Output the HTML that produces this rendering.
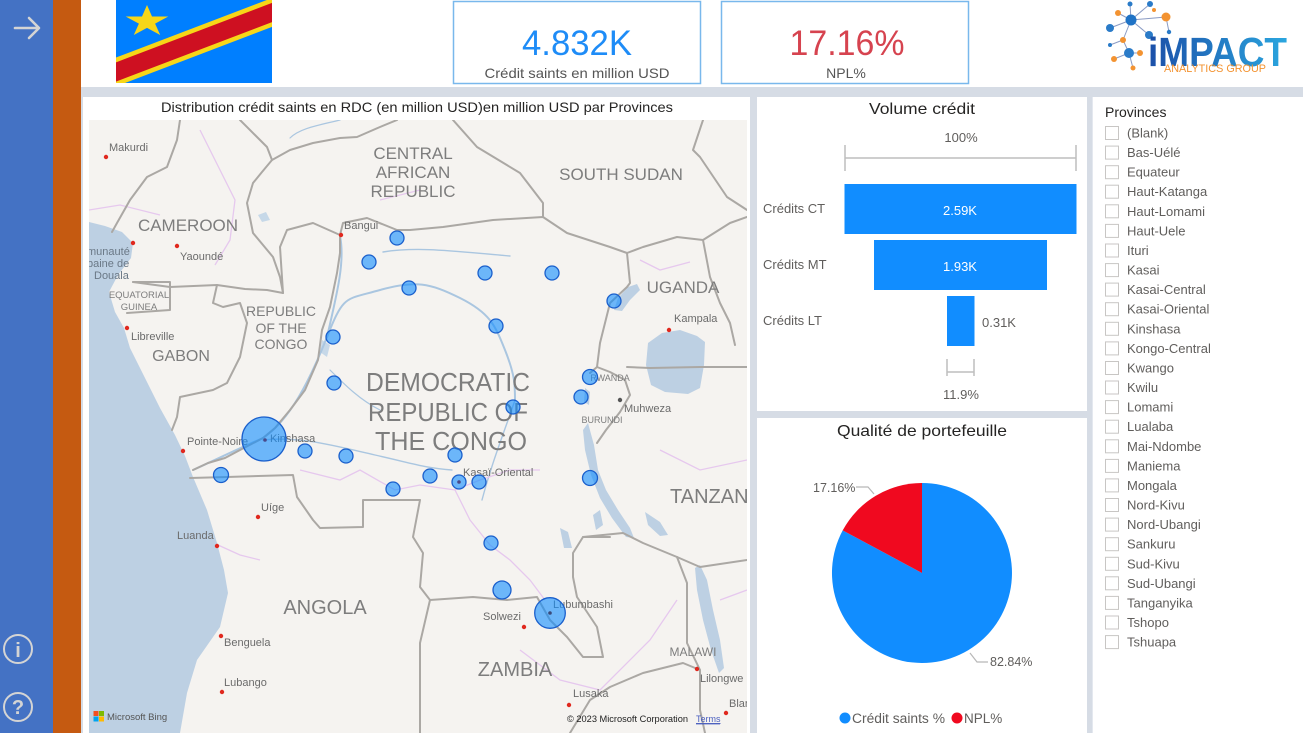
<!DOCTYPE html>
<html><head><meta charset="utf-8"><style>
html,body{margin:0;padding:0;width:1303px;height:733px;overflow:hidden;background:#D6DCE5}
svg{display:block}
text{font-family:"Liberation Sans",sans-serif}
</style></head><body>
<svg width="1303" height="733" viewBox="0 0 1303 733" xmlns="http://www.w3.org/2000/svg">
<defs>
<clipPath id="flagclip"><rect x="116" y="0" width="156" height="83"/></clipPath>
<clipPath id="mapclip"><rect x="89" y="120" width="658" height="613"/></clipPath>
<linearGradient id="lg" x1="0" y1="0" x2="1" y2="0"><stop offset="0" stop-color="#1B4FA8"/><stop offset="1" stop-color="#2BA6DF"/></linearGradient>
</defs>
<rect x="0" y="0" width="1303" height="733" fill="#D6DCE5"/>
<!-- sidebar -->
<rect x="0" y="0" width="53" height="733" fill="#4472C4"/>
<rect x="53" y="0" width="28" height="733" fill="#C55A11"/>
<g stroke="#D4D4D4" stroke-width="2.6" fill="none" stroke-linecap="round" stroke-linejoin="round">
<path d="M15,28 L38,28 M29,18 L39,28 L29,38"/>
<circle cx="18" cy="649" r="14" stroke-width="2"/>
<circle cx="18" cy="707" r="14" stroke-width="2"/>
</g>
<text x="18" y="657" font-size="20" fill="#D4D4D4" text-anchor="middle" font-weight="bold">i</text>
<text x="18" y="714" font-size="20" fill="#D4D4D4" text-anchor="middle" font-weight="bold">?</text>
<!-- header -->
<rect x="81" y="0" width="1222" height="87" fill="#FFFFFF"/>
<!-- flag -->
<g clip-path="url(#flagclip)">
<rect x="116" y="0" width="156" height="83" fill="#007FFF"/>
<line x1="100" y1="78.1" x2="290" y2="5.6" stroke="#F7D618" stroke-width="27"/>
<line x1="100" y1="78.1" x2="290" y2="5.6" stroke="#CE1021" stroke-width="18"/>
</g>
<polygon points="147,5 152,16.5 168.3,16.5 155.1,23.6 160.2,35 147,27.9 133.8,35 138.9,23.6 125.7,16.5 142,16.5" fill="#F7D618"/>
<!-- KPI cards -->
<rect x="453.5" y="1.5" width="247" height="82" fill="#fff" stroke="#79B8EC" stroke-width="1.5"/>
<text x="577" y="55" font-size="35" fill="#1E8CF7" text-anchor="middle" textLength="110" lengthAdjust="spacingAndGlyphs">4.832K</text>
<text x="577" y="78" font-size="14" fill="#555" text-anchor="middle" textLength="185" lengthAdjust="spacingAndGlyphs">Crédit saints en million USD</text>
<rect x="721.5" y="1.5" width="247" height="82" fill="#fff" stroke="#79B8EC" stroke-width="1.5"/>
<text x="847" y="55" font-size="35" fill="#D6434F" text-anchor="middle" textLength="115" lengthAdjust="spacingAndGlyphs">17.16%</text>
<text x="846" y="78" font-size="14" fill="#555" text-anchor="middle">NPL%</text>
<!-- logo -->
<g stroke="#8A9BC4" stroke-width="1">
<line x1="1131" y1="20" x2="1118" y2="13"/><line x1="1131" y1="20" x2="1130" y2="4"/><line x1="1131" y1="20" x2="1150" y2="4"/>
<line x1="1131" y1="20" x2="1166" y2="17"/><line x1="1131" y1="20" x2="1110" y2="28"/><line x1="1131" y1="20" x2="1149" y2="35"/>
<line x1="1131" y1="20" x2="1123" y2="40"/><line x1="1123" y1="40" x2="1129" y2="53"/><line x1="1129" y1="53" x2="1114" y2="59"/>
<line x1="1129" y1="53" x2="1140" y2="53"/><line x1="1129" y1="53" x2="1133" y2="68"/><line x1="1166" y1="17" x2="1169" y2="32"/>
<line x1="1123" y1="40" x2="1110" y2="45"/>
</g>
<g>
<circle cx="1131" cy="20" r="5.5" fill="#1F73C6"/>
<circle cx="1118" cy="13" r="3" fill="#F39331"/>
<circle cx="1130" cy="4" r="2.5" fill="#2A7BC8"/>
<circle cx="1150" cy="4" r="3" fill="#2A7BC8"/>
<circle cx="1154" cy="10" r="2" fill="#F39331"/>
<circle cx="1166" cy="17" r="4.5" fill="#F39331"/>
<circle cx="1169" cy="32" r="2.2" fill="#2A7BC8"/>
<circle cx="1110" cy="28" r="4" fill="#2A7BC8"/>
<circle cx="1149" cy="35" r="4" fill="#2A7BC8"/>
<circle cx="1123" cy="40" r="3" fill="#F39331"/>
<circle cx="1110" cy="45" r="2" fill="#2A7BC8"/>
<circle cx="1129" cy="53" r="5" fill="#2A7BC8"/>
<circle cx="1140" cy="53" r="3" fill="#F39331"/>
<circle cx="1114" cy="59" r="3" fill="#F39331"/>
<circle cx="1133" cy="68" r="2.5" fill="#F39331"/>
</g>
<text x="1148" y="66" font-size="41" font-weight="bold" fill="url(#lg)" textLength="139" lengthAdjust="spacingAndGlyphs">iMPACT</text>
<text x="1164" y="72" font-size="11" fill="#F39331" textLength="102" lengthAdjust="spacingAndGlyphs">ANALYTICS GROUP</text>

<!-- panels -->
<rect x="83" y="97" width="667" height="636" fill="#FFFFFF"/>
<rect x="757" y="97" width="330" height="314" fill="#FFFFFF"/>
<rect x="757" y="418" width="330" height="315" fill="#FFFFFF"/>
<rect x="1092" y="97" width="211" height="636" fill="#FFFFFF"/>
<line x1="1092.5" y1="97" x2="1092.5" y2="733" stroke="#E4E8EF" stroke-width="1"/>

<!-- map title -->
<text x="161" y="112" font-size="14" fill="#252423" textLength="512" lengthAdjust="spacingAndGlyphs">Distribution crédit saints en RDC (en million USD)en million USD par Provinces</text>

<!-- MAP -->
<g clip-path="url(#mapclip)">
<rect x="89" y="120" width="658" height="613" fill="#F5F3F0"/>
<!-- ocean -->
<path d="M89,222 L105,226 L122,232 L133,243 L131,258 L118,275 L109,292 L115,312 L124,328 L130,348 L145,378 L160,408 L175,435 L185,456 L193,477 L207,510 L217,543 L224,570 L228,593 L220,627 L197,660 L187,693 L180,733 L89,733 Z" fill="#BDD0E3"/>
<!-- lakes -->
<path d="M648,343 L662,333 L680,330 L697,336 L705,342 L704,365 L700,388 L688,394 L665,392 L651,385 L646,365 Z" fill="#BDD0E3"/>
<path d="M614,310 L618,298 L628,287 L637,284 L640,290 L630,300 L622,311 Z" fill="#BDD0E3"/>
<path d="M588,423 L594,445 L598,470 L606,490 L618,510 L630,528 L634,538 L626,537 L612,518 L600,498 L591,475 L585,450 L583,430 Z" fill="#BDD0E3"/>
<path d="M700,565 L707,580 L713,610 L720,640 L724,668 L719,673 L711,650 L703,620 L697,590 L695,568 Z" fill="#BDD0E3"/>
<path d="M585,388 L590,392 L589,405 L584,402 Z" fill="#BDD0E3"/>
<path d="M560,528 L568,532 L572,548 L564,548 Z" fill="#BDD0E3"/>
<path d="M593,515 L600,510 L603,525 L596,530 Z" fill="#BDD0E3"/>
<path d="M645,512 L660,522 L668,535 L660,536 L648,525 Z" fill="#BDD0E3"/>
<path d="M322,340 L330,345 L327,357 L320,352 Z" fill="#C6D8E8"/>
<path d="M258,215 L266,212 L270,220 L262,222 Z" fill="#C6D8E8"/>
<!-- rivers -->
<g stroke="#AAC6E0" stroke-width="2" fill="none" stroke-linecap="round">
<path d="M263,438 C290,420 310,380 327,337 S345,300 380,290 S430,283 460,298 S495,325 505,350 S515,385 515,400"/>
<path d="M340,236 C345,260 338,290 327,337"/>
<path d="M263,438 C240,448 215,460 193,470"/>
<path d="M263,440 C300,436 335,446 375,455 S425,468 452,470" stroke-width="1.4"/>
<path d="M383,252 C420,246 460,252 510,256" stroke-width="1.4"/>
<path d="M515,400 C505,430 492,462 482,500" stroke-width="1.4"/>
<path d="M330,370 C345,385 360,400 380,410" stroke-width="1.2"/>
<path d="M290,138 C300,128 320,125 340,120" stroke-width="1.2"/>
</g>
<!-- admin lines -->
<g stroke="#E6C8EE" stroke-width="1.3" fill="none">
<path d="M89,210 L120,205 L160,215"/>
<path d="M200,130 L220,170 L235,200 L230,240 L215,265"/>
<path d="M300,470 L340,480 L360,470 L395,490 L420,485 L455,490 L480,480 L510,470 L540,470"/>
<path d="M455,490 L470,520 L490,545 L510,560 L530,580 L545,600"/>
<path d="M640,260 L660,270 L690,262"/>
<path d="M520,650 L560,680 L600,690 L650,640 L677,600"/>
<path d="M660,450 L700,470 L747,460"/>
<path d="M218,545 L240,555 L260,560"/>
<path d="M380,200 L420,190"/>
<path d="M720,600 L747,590"/>
</g>
<!-- borders -->
<g stroke="#ABA8A4" stroke-width="2" fill="none" stroke-linejoin="round" stroke-linecap="round">
<path d="M180,120 L177,140 L167,167 L147,177 L130,200 L117,223 L112,232"/>
<path d="M240,120 L255,135 L267,147 L272,160 L290,150 L313,143 L340,138 L357,137 L380,127 L397,120"/>
<path d="M272,160 L262,172 L253,183 L247,203 L253,233 L273,257 L280,277 L283,293"/>
<path d="M133,282 L170,287 L217,285 L245,289 L267,290 L283,293"/>
<path d="M133,282 L170,282 L170,310 L127,313"/>
<path d="M217,285 L213,303 L223,307 L240,303 L247,323 L240,357 L227,383 L213,390 L180,397 L177,417 L172,430"/>
<path d="M283,293 L280,247 L287,230 L313,223 L340,235"/>
<path d="M340,235 L340,253 L337,273 L330,307 L322,330 L318,360 L305,390 L290,410 L275,428 L263,438 L240,450 L225,458 L208,463 L193,470"/>
<path d="M340,235 L343,223 L367,218 L397,230 L410,230 L443,227 L493,220 L543,217 L567,233 L610,247 L627,253 L630,283 L627,287 L610,303 L600,343 L597,367 L590,373"/>
<path d="M453,120 L477,147 L520,173 L543,203 L543,217"/>
<path d="M627,253 L643,247 L677,237 L703,240 L730,223 L747,217"/>
<path d="M703,120 L693,150 L700,157 L727,197 L747,210"/>
<path d="M703,240 L710,277 L720,303 L730,323 L735,345"/>
<path d="M627,367 L650,368 L700,367 L747,367"/>
<path d="M597,367 L610,372 L625,380 L630,395 L620,412 L606,430 L597,443"/>
<path d="M610,537 L583,537 L573,553 L573,577 L577,597 L597,627 L603,657 L583,657 L567,637 L550,620 L537,597 L507,600 L473,597 L430,600 L420,587 L423,553 L413,537 L420,500 L363,500 L363,527 L320,528 L313,520 L297,497 L293,475 L227,477 L190,478"/>
<path d="M583,537 L623,533 L643,543 L677,557 L700,567 L747,560"/>
<path d="M430,600 L420,643 L420,733"/>
<path d="M677,557 L687,583 L687,643 L700,670 L700,710 L705,733"/>
<path d="M570,733 L590,700 L610,687 L643,673 L683,663 L700,670"/>
</g>
<!-- country labels -->
<g fill="#7D7D7D" text-anchor="middle">
<text x="413" y="159" font-size="17">CENTRAL</text>
<text x="413" y="178" font-size="17">AFRICAN</text>
<text x="413" y="197" font-size="17">REPUBLIC</text>
<text x="621" y="180" font-size="17">SOUTH SUDAN</text>
<text x="188" y="231" font-size="17">CAMEROON</text>
<text x="683" y="293" font-size="17">UGANDA</text>
<text x="281" y="316" font-size="14">REPUBLIC</text>
<text x="281" y="333" font-size="14">OF THE</text>
<text x="281" y="349" font-size="14">CONGO</text>
<text x="181" y="361" font-size="16">GABON</text>
<text x="448" y="391" font-size="26" textLength="164" lengthAdjust="spacingAndGlyphs">DEMOCRATIC</text>
<text x="448" y="421" font-size="26" textLength="160" lengthAdjust="spacingAndGlyphs">REPUBLIC OF</text>
<text x="451" y="450" font-size="26" textLength="152" lengthAdjust="spacingAndGlyphs">THE CONGO</text>
<text x="325" y="614" font-size="20">ANGOLA</text>
<text x="515" y="676" font-size="20">ZAMBIA</text>
<text x="693" y="656" font-size="12">MALAWI</text>
<text x="610" y="381" font-size="9">RWANDA</text>
<text x="602" y="423" font-size="9">BURUNDI</text>
<text x="139" y="298" font-size="9.5">EQUATORIAL</text>
<text x="139" y="310" font-size="9.5">GUINEA</text>
</g>
<text x="670" y="503" font-size="20" fill="#7D7D7D">TANZANIA</text>
<!-- cities -->
<g fill="#E0281E">
<circle cx="106" cy="157" r="2.2"/><circle cx="341" cy="235" r="2.2"/><circle cx="177" cy="246" r="2.2"/>
<circle cx="133" cy="243" r="2.2"/><circle cx="127" cy="328" r="2.2"/><circle cx="183" cy="451" r="2.2"/>
<circle cx="258" cy="517" r="2.2"/><circle cx="217" cy="546" r="2.2"/><circle cx="221" cy="636" r="2.2"/>
<circle cx="222" cy="692" r="2.2"/><circle cx="524" cy="627" r="2.2"/><circle cx="569" cy="705" r="2.2"/>
<circle cx="669" cy="330" r="2.2"/><circle cx="697" cy="669" r="2.2"/><circle cx="726" cy="713" r="2.2"/>
</g>
<circle cx="620" cy="400" r="2.2" fill="#555"/>
<g fill="#6B6B6B" font-size="11">
<text x="109" y="151">Makurdi</text>
<text x="344" y="229">Bangui</text>
<text x="180" y="260">Yaoundé</text>
<text x="131" y="340">Libreville</text>
<text x="187" y="445">Pointe-Noire</text>
<text x="270" y="442">Kinshasa</text>
<text x="261" y="511">Uíge</text>
<text x="177" y="539">Luanda</text>
<text x="224" y="646">Benguela</text>
<text x="224" y="686">Lubango</text>
<text x="463" y="476">Kasaï-Oriental</text>
<text x="553" y="608">Lubumbashi</text>
<text x="483" y="620">Solwezi</text>
<text x="573" y="697">Lusaka</text>
<text x="674" y="322">Kampala</text>
<text x="624" y="412">Muhweza</text>
<text x="700" y="682">Lilongwe</text>
<text x="729" y="707">Blan</text>
</g>
<g fill="#6A7886" font-size="11">
<text x="87" y="255">munauté</text>
<text x="87" y="267">baine de</text>
<text x="94" y="279">Douala</text>
</g>
<!-- bubbles -->
<g fill="rgba(17,141,255,0.6)" stroke="#1A5FCC" stroke-width="1.3">
<circle cx="397" cy="238" r="7"/><circle cx="369" cy="262" r="7"/><circle cx="409" cy="288" r="7"/>
<circle cx="485" cy="273" r="7"/><circle cx="552" cy="273" r="7"/><circle cx="614" cy="301" r="7"/>
<circle cx="496" cy="326" r="7"/><circle cx="333" cy="337" r="7"/><circle cx="334" cy="383" r="7"/>
<circle cx="590" cy="377" r="7.5"/><circle cx="581" cy="397" r="7"/><circle cx="513" cy="407" r="7"/>
<circle cx="264" cy="439" r="22"/><circle cx="305" cy="451" r="7"/><circle cx="346" cy="456" r="7"/>
<circle cx="221" cy="475" r="7.5"/><circle cx="455" cy="455" r="7"/><circle cx="393" cy="489" r="7"/>
<circle cx="430" cy="476" r="7"/><circle cx="459" cy="482" r="7"/><circle cx="479" cy="482" r="7"/>
<circle cx="590" cy="478" r="7.5"/><circle cx="491" cy="543" r="7"/><circle cx="502" cy="590" r="9"/>
<circle cx="550" cy="613" r="15.3"/>
</g>
<circle cx="265" cy="440" r="1.8" fill="#4A4A8A"/>
<circle cx="459" cy="482" r="1.8" fill="#4A4A8A"/>
<circle cx="550" cy="613" r="1.8" fill="#3A4A7A"/>
<!-- attribution -->
<rect x="93.5" y="711" width="5" height="5" fill="#F25022"/>
<rect x="99" y="711" width="5" height="5" fill="#7FBA00"/>
<rect x="93.5" y="716.5" width="5" height="5" fill="#00A4EF"/>
<rect x="99" y="716.5" width="5" height="5" fill="#FFB900"/>
<text x="107" y="720" font-size="9.5" fill="#555">Microsoft Bing</text>
<text x="567" y="722" font-size="9" fill="#222" textLength="121" lengthAdjust="spacingAndGlyphs">© 2023 Microsoft Corporation</text>
<text x="696" y="722" font-size="9" fill="#4A5FBF" text-decoration="underline">Terms</text>
<line x1="696" y1="724" x2="720" y2="724" stroke="#4A5FBF" stroke-width="0.8"/>
</g>

<!-- FUNNEL -->
<text x="922" y="114" font-size="16" fill="#252423" text-anchor="middle" textLength="106" lengthAdjust="spacingAndGlyphs">Volume crédit</text>
<text x="961" y="142" font-size="13" fill="#605E5C" text-anchor="middle">100%</text>
<g stroke="#BEBEBE" stroke-width="1.5">
<line x1="845" y1="158" x2="1076" y2="158"/><line x1="845" y1="145" x2="845" y2="171"/><line x1="1076" y1="145" x2="1076" y2="171"/>
<line x1="947" y1="372" x2="974" y2="372"/><line x1="947" y1="359" x2="947" y2="376"/><line x1="974" y1="359" x2="974" y2="376"/>
</g>
<rect x="844.5" y="184" width="232" height="50" fill="#118DFF"/>
<rect x="874" y="240" width="173" height="50" fill="#118DFF"/>
<rect x="947" y="296" width="27.5" height="50" fill="#118DFF"/>
<g font-size="13" fill="#605E5C">
<text x="763" y="213">Crédits CT</text>
<text x="763" y="269">Crédits MT</text>
<text x="763" y="325">Crédits LT</text>
<text x="982" y="327">0.31K</text>
<text x="961" y="399" text-anchor="middle">11.9%</text>
</g>
<text x="960" y="215" font-size="13" fill="#FFFFFF" text-anchor="middle">2.59K</text>
<text x="960" y="271" font-size="13" fill="#FFFFFF" text-anchor="middle">1.93K</text>

<!-- PIE -->
<text x="922" y="436" font-size="16" fill="#252423" text-anchor="middle" textLength="170" lengthAdjust="spacingAndGlyphs">Qualité de portefeuille</text>
<path d="M922,573 L922,483 A90,90 0 1,1 842.7,530.4 Z" fill="#118DFF"/>
<path d="M922,573 L922,483 A90,90 0 0,0 842.7,530.4 Z" fill="#F0091F"/>
<g stroke="#B8B8B8" stroke-width="1.2" fill="none">
<polyline points="856,487 868,487 874,494"/>
<polyline points="970,653 977,662 988,662"/>
</g>
<text x="813" y="492" font-size="12.5" fill="#605E5C">17.16%</text>
<text x="990" y="666" font-size="12.5" fill="#605E5C">82.84%</text>
<circle cx="845" cy="718" r="5.5" fill="#118DFF"/>
<text x="852" y="723" font-size="13.5" fill="#605E5C" textLength="93" lengthAdjust="spacingAndGlyphs">Crédit saints  %</text>
<circle cx="957" cy="718" r="5.5" fill="#F0091F"/>
<text x="964" y="723" font-size="13.5" fill="#605E5C">NPL%</text>

<!-- SLICER -->
<text x="1105" y="117" font-size="14" fill="#252423">Provinces</text>
<g fill="#FFFFFF" stroke="#C8C6C4" stroke-width="1">
<rect x="1105.5" y="126.5" width="13" height="13"/><rect x="1105.5" y="146.1" width="13" height="13"/>
<rect x="1105.5" y="165.7" width="13" height="13"/><rect x="1105.5" y="185.2" width="13" height="13"/>
<rect x="1105.5" y="204.8" width="13" height="13"/><rect x="1105.5" y="224.4" width="13" height="13"/>
<rect x="1105.5" y="244.0" width="13" height="13"/><rect x="1105.5" y="263.6" width="13" height="13"/>
<rect x="1105.5" y="283.1" width="13" height="13"/><rect x="1105.5" y="302.7" width="13" height="13"/>
<rect x="1105.5" y="322.3" width="13" height="13"/><rect x="1105.5" y="341.9" width="13" height="13"/>
<rect x="1105.5" y="361.5" width="13" height="13"/><rect x="1105.5" y="381.0" width="13" height="13"/>
<rect x="1105.5" y="400.6" width="13" height="13"/><rect x="1105.5" y="420.2" width="13" height="13"/>
<rect x="1105.5" y="439.8" width="13" height="13"/><rect x="1105.5" y="459.4" width="13" height="13"/>
<rect x="1105.5" y="478.9" width="13" height="13"/><rect x="1105.5" y="498.5" width="13" height="13"/>
<rect x="1105.5" y="518.1" width="13" height="13"/><rect x="1105.5" y="537.7" width="13" height="13"/>
<rect x="1105.5" y="557.3" width="13" height="13"/><rect x="1105.5" y="576.8" width="13" height="13"/>
<rect x="1105.5" y="596.4" width="13" height="13"/><rect x="1105.5" y="616.0" width="13" height="13"/>
<rect x="1105.5" y="635.6" width="13" height="13"/>
</g>
<g font-size="13" fill="#605E5C">
<text x="1127" y="137.5">(Blank)</text>
<text x="1127" y="157.1">Bas-Uélé</text>
<text x="1127" y="176.7">Equateur</text>
<text x="1127" y="196.2">Haut-Katanga</text>
<text x="1127" y="215.8">Haut-Lomami</text>
<text x="1127" y="235.4">Haut-Uele</text>
<text x="1127" y="255.0">Ituri</text>
<text x="1127" y="274.6">Kasai</text>
<text x="1127" y="294.1">Kasai-Central</text>
<text x="1127" y="313.7">Kasai-Oriental</text>
<text x="1127" y="333.3">Kinshasa</text>
<text x="1127" y="352.9">Kongo-Central</text>
<text x="1127" y="372.5">Kwango</text>
<text x="1127" y="392.0">Kwilu</text>
<text x="1127" y="411.6">Lomami</text>
<text x="1127" y="431.2">Lualaba</text>
<text x="1127" y="450.8">Mai-Ndombe</text>
<text x="1127" y="470.4">Maniema</text>
<text x="1127" y="489.9">Mongala</text>
<text x="1127" y="509.5">Nord-Kivu</text>
<text x="1127" y="529.1">Nord-Ubangi</text>
<text x="1127" y="548.7">Sankuru</text>
<text x="1127" y="568.3">Sud-Kivu</text>
<text x="1127" y="587.8">Sud-Ubangi</text>
<text x="1127" y="607.4">Tanganyika</text>
<text x="1127" y="627.0">Tshopo</text>
<text x="1127" y="646.6">Tshuapa</text>
</g>
</svg>
</body></html>
